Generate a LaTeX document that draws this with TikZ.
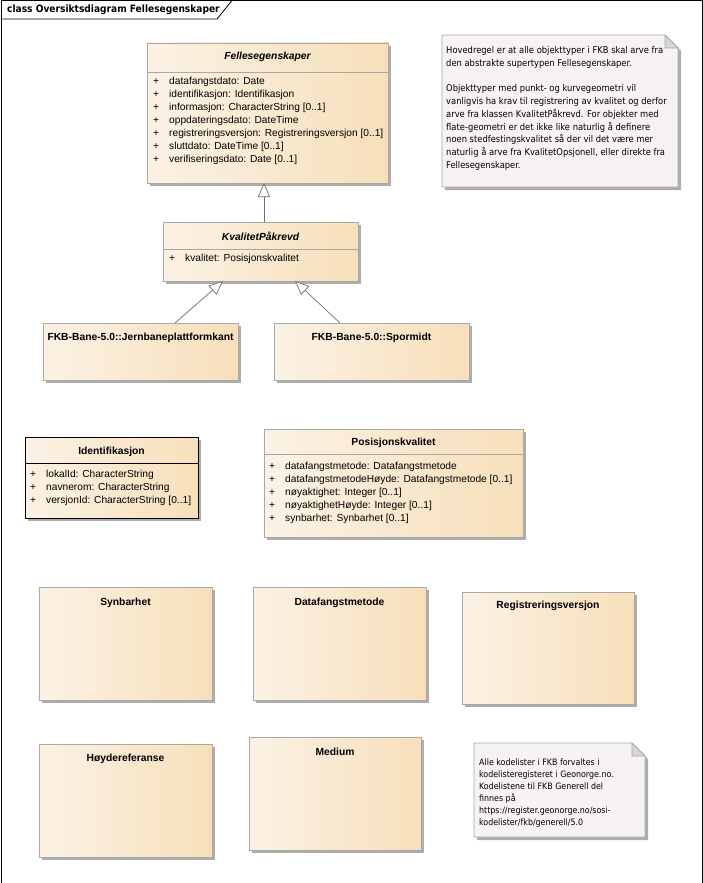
\documentclass[tikz,border=0pt]{standalone}
\usepackage{fontspec}
\setmainfont{Liberation Sans}
\newfontfamily\notefont{DejaVu Sans Condensed}
\usetikzlibrary{arrows.meta,shadows,calc}
\definecolor{clsleft}{HTML}{FBF2E5}
\definecolor{clsright}{HTML}{F7DFBA}
\definecolor{clsborder}{HTML}{A8A8A8}
\definecolor{shadowgray}{HTML}{ADADAD}
\definecolor{notefill}{HTML}{F6F2F6}
\definecolor{foldfill}{HTML}{D8D4D8}
\definecolor{linegray}{HTML}{6E6E6E}
\tikzset{
  cls/.style={draw=clsborder, line width=0.8pt, left color=clsleft, right color=clsright,
    drop shadow={shadow xshift=3pt, shadow yshift=-3pt, opacity=1, fill=shadowgray},
    anchor=north west, inner sep=0pt, outer sep=0pt},
  ctitle/.style={font=\fontsize{10.3}{12}\selectfont\bfseries, inner sep=0pt},
  atitle/.style={font=\fontsize{10.3}{12}\selectfont\bfseries\itshape, inner sep=0pt},
  attrs/.style={font=\fontsize{10.2}{13}\selectfont, align=left, anchor=north west, inner sep=0pt},
  sepline/.style={draw=clsborder, line width=0.8pt},
  gen/.style={draw=linegray, line width=0.7pt, -{Triangle[length=14pt,width=12pt,fill=white]}},
  notebox/.style={anchor=north west, inner sep=0pt, outer sep=0pt},
  notetext/.style={font=\notefont\fontsize{9.3}{12.8}\selectfont, align=left, anchor=north west, inner sep=0pt},
}
\newcommand{\pl}{\makebox[16pt][l]{+}}
\begin{document}
\begin{tikzpicture}[x=1pt,y=-1pt]
\useasboundingbox (0,0) rectangle (702,883);
% frame
\node[anchor=north west, minimum width=701pt, minimum height=882pt, inner sep=0pt, draw=black, line width=0.8pt] (frame) at (0.5,0.5) {};
\coordinate (tabA) at (0.5,19);
\coordinate (tabB) at (217,19);
\coordinate (tabC) at (232,0.5);
\draw[black, line width=0.8pt] (tabA) -- (tabB) -- (tabC);
\node[anchor=west, inner sep=0pt, font=\notefont\fontsize{10.1}{11}\selectfont\bfseries] (ftitle) at (7,10) {class Oversiktsdiagram Fellesegenskaper};

% Fellesegenskaper
\node[cls, minimum width=241pt, minimum height=140pt] (fe) at (147,43) {};
\node[atitle] (fet) at ([yshift=-14pt]fe.north) {Fellesegenskaper};
\draw[sepline] ([yshift=-29pt]fe.north west) -- ([yshift=-29pt]fe.north east);
\node[attrs] (fea) at ([xshift=6pt,yshift=-34pt]fe.north west) {\pl datafangstdato: Date\\
\pl identifikasjon: Identifikasjon\\
\pl informasjon: CharacterString [0..1]\\
\pl oppdateringsdato: DateTime\\
\pl registreringsversjon: Registreringsversjon [0..1]\\
\pl sluttdato: DateTime [0..1]\\
\pl verifiseringsdato: Date [0..1]};

% KvalitetPaakrevd
\node[cls, minimum width=195pt, minimum height=59pt] (kp) at (163,222) {};
\node[atitle] (kpt) at ([yshift=-14pt]kp.north) {KvalitetPåkrevd};
\draw[sepline] ([yshift=-27pt]kp.north west) -- ([yshift=-27pt]kp.north east);
\node[attrs] (kpa) at ([xshift=6pt,yshift=-32pt]kp.north west) {\pl kvalitet: Posisjonskvalitet};

% subclasses
\node[cls, minimum width=195pt, minimum height=57pt] (jb) at (43,323) {};
\node[ctitle] (jbt) at ([yshift=-15pt]jb.north) {FKB-Bane-5.0::Jernbaneplattformkant};
\node[cls, minimum width=195pt, minimum height=57pt] (sp) at (274,323) {};
\node[ctitle] (spt) at ([yshift=-15pt]sp.north) {FKB-Bane-5.0::Spormidt};

% Identifikasjon
\node[cls, draw=black, minimum width=173pt, minimum height=81pt] (id) at (25,437) {};
\node[ctitle] (idt) at ([yshift=-15pt]id.north) {Identifikasjon};
\draw[black, line width=0.8pt] ([yshift=-26pt]id.north west) -- ([yshift=-26pt]id.north east);
\node[attrs] (ida) at ([xshift=5pt,yshift=-33pt]id.north west) {\pl lokalId: CharacterString\\
\pl navnerom: CharacterString\\
\pl versjonId: CharacterString [0..1]};

% Posisjonskvalitet
\node[cls, minimum width=259pt, minimum height=108pt] (pk) at (264,429) {};
\node[ctitle] (pkt) at ([yshift=-14pt]pk.north) {Posisjonskvalitet};
\draw[sepline] ([yshift=-25pt]pk.north west) -- ([yshift=-25pt]pk.north east);
\node[attrs] (pka) at ([xshift=5pt,yshift=-33pt]pk.north west) {\pl datafangstmetode: Datafangstmetode\\
\pl datafangstmetodeHøyde: Datafangstmetode [0..1]\\
\pl nøyaktighet: Integer [0..1]\\
\pl nøyaktighetHøyde: Integer [0..1]\\
\pl synbarhet: Synbarhet [0..1]};

% code lists
\node[cls, minimum width=173pt, minimum height=113pt] (sy) at (39,587) {};
\node[ctitle] (syt) at ([yshift=-16pt]sy.north) {Synbarhet};
\node[cls, minimum width=173pt, minimum height=113pt] (dm) at (253,587) {};
\node[ctitle] (dmt) at ([yshift=-16pt]dm.north) {Datafangstmetode};
\node[cls, minimum width=172pt, minimum height=112pt] (rv) at (462,592) {};
\node[ctitle] (rvt) at ([yshift=-14pt]rv.north) {Registreringsversjon};
\node[cls, minimum width=173pt, minimum height=113pt] (hr) at (39,744) {};
\node[ctitle] (hrt) at ([yshift=-15pt]hr.north) {Høydereferanse};
\node[cls, minimum width=172pt, minimum height=113pt] (me) at (249,737) {};
\node[ctitle] (met) at ([yshift=-15pt]me.north) {Medium};

% generalizations
\draw[gen] ([xshift=3.5pt]kp.north) -- ([xshift=-3.5pt]fe.south);
\draw[gen] ([xshift=34.5pt]jb.north) -- ([xshift=-37.5pt]kp.south);
\draw[gen] ([xshift=-31.5pt]sp.north) -- ([xshift=34.5pt]kp.south);

% note 1
\node[notebox, minimum width=236pt, minimum height=152pt] (n1) at (442,35) {};
\fill[shadowgray] ([shift={(3pt,-3pt)}]n1.north west) -- ([shift={(-10pt,-3pt)}]n1.north east) -- ([shift={(3pt,-16pt)}]n1.north east) -- ([shift={(3pt,-3pt)}]n1.south east) -- ([shift={(3pt,-3pt)}]n1.south west) -- cycle;
\filldraw[fill=notefill, draw=clsborder, line width=0.8pt] (n1.north west) -- ([xshift=-13pt]n1.north east) -- ([yshift=-13pt]n1.north east) -- (n1.south east) -- (n1.south west) -- cycle;
\filldraw[fill=foldfill, draw=clsborder, line width=0.8pt] ([xshift=-13pt]n1.north east) -- ([xshift=-13pt,yshift=-13pt]n1.north east) -- ([yshift=-13pt]n1.north east) -- cycle;
\node[notetext] (n1t) at ([xshift=4pt,yshift=-11pt]n1.north west) {Hovedregel er at alle objekttyper i FKB skal arve fra\\
den abstrakte supertypen Fellesegenskaper.\\
\mbox{}\\
Objekttyper med punkt- og kurvegeometri vil\\
vanligvis ha krav til registrering av kvalitet og derfor\\
arve fra klassen KvalitetPåkrevd. For objekter med\\
flate-geometri er det ikke like naturlig å definere\\
noen stedfestingskvalitet så der vil det være mer\\
naturlig å arve fra KvalitetOpsjonell, eller direkte fra\\
Fellesegenskaper.};

% note 2
\node[notebox, minimum width=171pt, minimum height=94pt] (n2) at (474,743) {};
\fill[shadowgray] ([shift={(3pt,-3pt)}]n2.north west) -- ([shift={(-10pt,-3pt)}]n2.north east) -- ([shift={(3pt,-16pt)}]n2.north east) -- ([shift={(3pt,-3pt)}]n2.south east) -- ([shift={(3pt,-3pt)}]n2.south west) -- cycle;
\filldraw[fill=notefill, draw=clsborder, line width=0.8pt] (n2.north west) -- ([xshift=-13pt]n2.north east) -- ([yshift=-13pt]n2.north east) -- (n2.south east) -- (n2.south west) -- cycle;
\filldraw[fill=foldfill, draw=clsborder, line width=0.8pt] ([xshift=-13pt]n2.north east) -- ([xshift=-13pt,yshift=-13pt]n2.north east) -- ([yshift=-13pt]n2.north east) -- cycle;
\node[notetext, font=\notefont\fontsize{8.8}{11.9}\selectfont] (n2t) at ([xshift=5pt,yshift=-16pt]n2.north west) {Alle kodelister i FKB forvaltes i\\
kodelisteregisteret i Geonorge.no.\\
Kodelistene til FKB Generell del\\
finnes på\\
https://register.geonorge.no/sosi-\\
kodelister/fkb/generell/5.0};
\end{tikzpicture}
\end{document}
